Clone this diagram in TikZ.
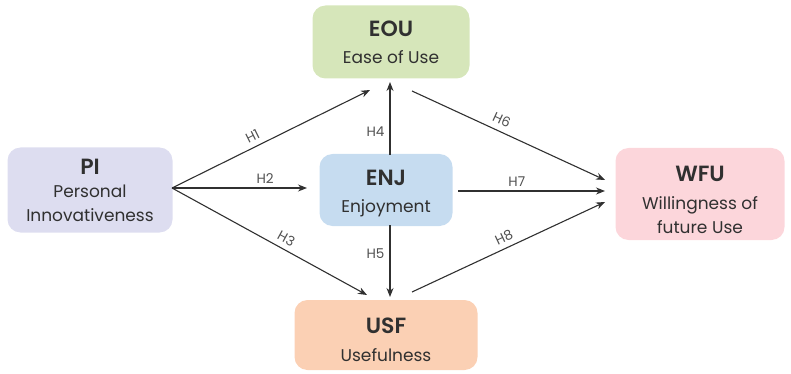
\documentclass[tikz,border=0pt]{standalone}
\usepackage{fontspec}
\setmainfont{Poppins}[BoldFont={Poppins SemiBold}]
\usetikzlibrary{arrows.meta}
\definecolor{txt}{HTML}{303030}
\definecolor{lbl}{HTML}{505050}
\definecolor{eoufill}{HTML}{D6E6BA}
\definecolor{pifill}{HTML}{DDDDF0}
\definecolor{enjfill}{HTML}{C6DCF0}
\definecolor{wfufill}{HTML}{FCD6DB}
\definecolor{usffill}{HTML}{FBD0B4}
\newcommand{\ttlfont}{\fontsize{22}{24}\selectfont\bfseries}
\newcommand{\subfont}{\fontsize{17}{24}\selectfont\mdseries}
% invisible strut that pushes the text block of a box downwards
\newcommand{\topstrut}[1]{\rule{0pt}{#1}}
\begin{document}
\begin{tikzpicture}[x=1pt,y=-1pt,
  box/.style={rounded corners=13pt, inner sep=0pt, align=center, text=txt,
    font=\fontsize{17}{24}\selectfont},
  conn/.style={draw=txt, line width=1.1pt, -{Stealth[length=9pt,width=7pt]}},
  hyp/.style={font=\fontsize{13.5}{14}\selectfont, text=lbl, inner sep=2pt}]
\useasboundingbox (0,0) rectangle (791,374);
% constructs
\node[box, fill=eoufill, minimum width=157pt, minimum height=73pt] (eou) at (391,42)
  {\ttlfont EOU\\[3pt]\subfont Ease of Use};
\node[box, fill=pifill, minimum width=165pt, minimum height=85pt] (pi) at (90,190)
  {\ttlfont PI\\[-1pt]\subfont Personal\\\subfont Innovativeness};
\node[box, fill=enjfill, minimum width=133pt, minimum height=72pt] (enj) at (386,190)
  {\ttlfont\topstrut{22pt}ENJ\\[3pt]\subfont Enjoyment};
\node[box, fill=wfufill, minimum width=169pt, minimum height=92pt] (wfu) at (700,194)
  {\ttlfont\topstrut{28pt}WFU\\[4pt]\subfont Willingness of\\\subfont future Use};
\node[box, fill=usffill, minimum width=183pt, minimum height=70pt] (usf) at (386,335)
  {\ttlfont\topstrut{26pt}USF\\[4pt]\subfont Usefulness};
% anchor points of the paths
\coordinate (piout) at (172,188);
\coordinate (eoul) at (370,90);
\coordinate (eouc) at (390,82);
\coordinate (eour) at (412,91);
\coordinate (usfl) at (367,295);
\coordinate (usfc) at (390,297);
\coordinate (usfr) at (412,292);
\coordinate (enjin) at (307,188);
\coordinate (enjtop) at (390,155);
\coordinate (enjbot) at (390,225);
\coordinate (enjout) at (458,191);
\coordinate (wfua) at (605,180);
\coordinate (wfub) at (605,191);
\coordinate (wfuc) at (605,202);
% hypotheses
\draw[conn] (piout) -- node[hyp, sloped, above=3pt, pos=0.43] {H1} (eoul);
\draw[conn] (piout) -- node[hyp, above=2pt, pos=0.69] {H2} (enjin);
\draw[conn] (piout) -- node[hyp, sloped, above=3pt, pos=0.56] {H3} (usfl);
\draw[conn] (enjtop) -- node[hyp, left=3pt, pos=0.32] {H4} (eouc);
\draw[conn] (enjbot) -- node[hyp, left=3pt, pos=0.4] {H5} (usfc);
\draw[conn] (eour) -- node[hyp, sloped, above=4pt, pos=0.44] {H6} (wfua);
\draw[conn] (enjout) -- node[hyp, above=2pt, pos=0.4] {H7} (wfub);
\draw[conn] (usfr) -- node[hyp, sloped, above=3pt, pos=0.5] {H8} (wfuc);
\end{tikzpicture}
\end{document}
